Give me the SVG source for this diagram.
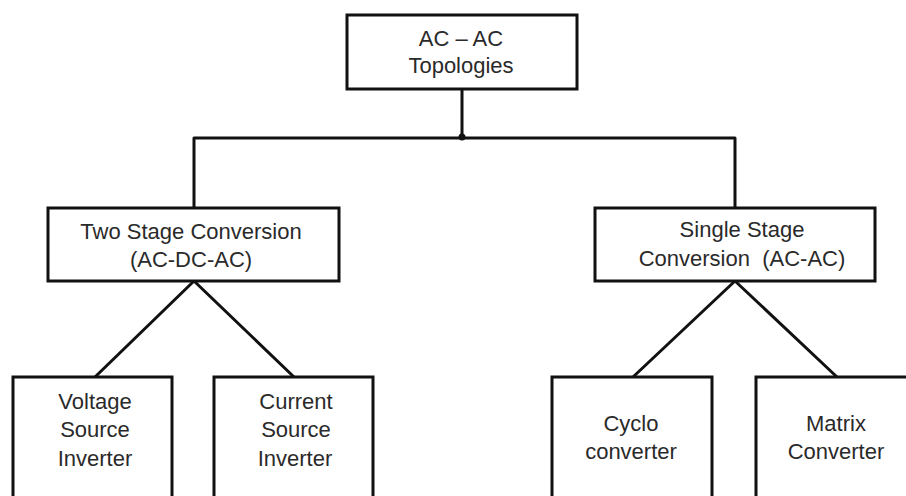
<svg xmlns="http://www.w3.org/2000/svg" width="906" height="496" viewBox="0 0 906 496">
<style>
.box{fill:#ffffff;stroke:#111111;stroke-width:3}
.lbl{font-family:"Liberation Sans",Arial,sans-serif;font-size:22px;fill:#2a2a2a;text-anchor:middle}
.con{stroke:#111111;stroke-width:3;fill:none;stroke-linecap:round;stroke-linejoin:round}
</style>
<rect width="906" height="496" fill="#ffffff"/>
<g id="connectors">
<path class="con" d="M462,89 V138"/>
<path class="con" d="M194,208 V138 H735 V208"/>
<circle cx="462" cy="137" r="3.5" fill="#111111"/>
<path class="con" d="M194,281 L95,377 M194,281 L294,377"/>
<path class="con" d="M735,281 L633,377 M735,281 L837,377"/>
</g>
<g id="n-top">
<rect class="box" x="347" y="15" width="230" height="74"/>
<text class="lbl" x="461" y="46">AC – AC</text>
<text class="lbl" x="461" y="73">Topologies</text>
</g>
<g id="n-two">
<rect class="box" x="48" y="208" width="291" height="73"/>
<text class="lbl" x="191" y="238.5">Two Stage Conversion</text>
<text class="lbl" x="191" y="266.5">(AC-DC-AC)</text>
</g>
<g id="n-single">
<rect class="box" x="595" y="208" width="280" height="73"/>
<text class="lbl" x="742" y="237">Single Stage</text>
<text class="lbl" x="742" y="266" xml:space="preserve">Conversion  (AC-AC)</text>
</g>
<g id="n-vsi">
<rect class="box" x="13" y="377" width="159" height="140"/>
<text class="lbl" x="95" y="408.5">Voltage</text>
<text class="lbl" x="95" y="437">Source</text>
<text class="lbl" x="95" y="465.5">Inverter</text>
</g>
<g id="n-csi">
<rect class="box" x="214" y="377" width="159" height="140"/>
<text class="lbl" x="296" y="408.5">Current</text>
<text class="lbl" x="296" y="437">Source</text>
<text class="lbl" x="295" y="465.5">Inverter</text>
</g>
<g id="n-cyclo">
<rect class="box" x="552" y="377" width="160" height="140"/>
<text class="lbl" x="631" y="430.5">Cyclo</text>
<text class="lbl" x="631" y="459">converter</text>
</g>
<g id="n-matrix">
<rect class="box" x="756" y="377" width="160" height="140"/>
<text class="lbl" x="836" y="430.5">Matrix</text>
<text class="lbl" x="836" y="459">Converter</text>
</g>
</svg>
